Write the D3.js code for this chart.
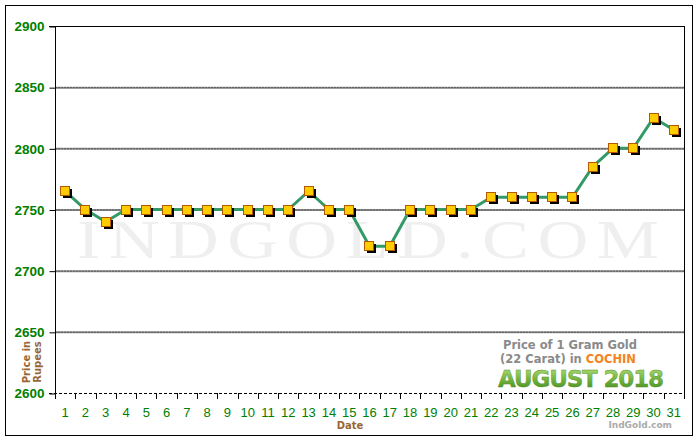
<!DOCTYPE html>
<html><head><meta charset="utf-8">
<script src="https://cdn.jsdelivr.net/npm/d3@7"></script>
<style>body{margin:0;background:#fff}</style>
</head><body>
<svg id="c" width="700" height="440"></svg>
<script>
const dates = d3.range(1, 32).map(String);
const prices = [2765,2750,2740,2750,2750,2750,2750,2750,2750,2750,2750,2750,2765,2750,2750,2720,2720,2750,2750,2750,2750,2760,2760,2760,2760,2760,2785,2800,2800,2825,2815];
const yTicks = [2600,2650,2700,2750,2800,2850,2900];

const svg = d3.select("#c");
const L = 55, R = 684, T = 26, B = 393;
const x = d3.scaleBand().domain(dates).range([L, R]);
const y = d3.scaleLinear().domain([2600, 2900]).range([B, T]);

svg.append("rect").attr("x",5.5).attr("y",5.5).attr("width",687).attr("height",430)
  .attr("fill","#fff").attr("stroke","#000");

// watermark
svg.append("text").attr("transform","translate(77,258) scale(1.3,1)")
  .attr("x", 0).attr("y", 0).attr("textLength", 582/1.3).attr("lengthAdjust","spacing")
  .attr("font-family","Liberation Serif, DejaVu Serif, serif").attr("font-size", 54)
  .attr("fill","#efefef").text("INDGOLD.COM");

// gridlines
const grid = yTicks.filter(v => v > 2600 && v < 2900);
svg.append("g").selectAll("line").data(grid).join("line")
  .attr("x1", L).attr("x2", R).attr("y1", d => y(d)+0.5).attr("y2", d => y(d)+0.5)
  .attr("stroke","#8a8a8a").attr("stroke-width",2);
svg.append("g").selectAll("line").data(grid).join("line")
  .attr("x1", L).attr("x2", R).attr("y1", d => y(d)+0.5).attr("y2", d => y(d)+0.5)
  .attr("stroke","#5a5a5a").attr("stroke-width",1).attr("stroke-dasharray","2,1");

// legend box
const lg = svg.append("g");
lg.append("rect").attr("x", 472).attr("y", y(2650)+2).attr("width", R-473).attr("height", B - y(2650)-3).attr("fill","#fff");
const defs = svg.append("defs");
const gr = defs.append("linearGradient").attr("id","gg").attr("x1",0).attr("y1",0).attr("x2",0).attr("y2",1);
gr.append("stop").attr("offset","0").attr("stop-color","#b8e07a");
gr.append("stop").attr("offset","0.55").attr("stop-color","#6fb03a");
gr.append("stop").attr("offset","1").attr("stop-color","#3f8a1e");
lg.append("text").attr("x", 570).attr("y", 349).attr("text-anchor","middle")
  .attr("font-family","DejaVu Sans, Verdana, sans-serif").attr("font-weight","bold").attr("font-size", 11.5)
  .attr("fill","#8a8a8a").text("Price of 1 Gram Gold");
const t2 = lg.append("text").attr("x", 568).attr("y", 363).attr("text-anchor","middle")
  .attr("font-family","DejaVu Sans, Verdana, sans-serif").attr("font-weight","bold").attr("font-size", 11.5)
  .attr("fill","#8a8a8a");
t2.append("tspan").text("(22 Carat) in ");
t2.append("tspan").attr("fill","#f58220").text("COCHIN");
lg.append("text").attr("x", 581).attr("y", 387).attr("text-anchor","middle").attr("textLength",166)
  .attr("font-family","DejaVu Sans, Verdana, sans-serif").attr("font-weight","bold").attr("font-size", 23)
  .attr("fill","url(#gg)").attr("stroke","#4d8f2a").attr("stroke-width",0.4).text("AUGUST 2018");

// axes frame
svg.append("line").attr("x1", L-6).attr("x2", R+0.5).attr("y1", T+0.5).attr("y2", T+0.5).attr("stroke","#000");
svg.append("line").attr("x1", R+0.5).attr("x2", R+0.5).attr("y1", T).attr("y2", B).attr("stroke","#000");
svg.append("line").attr("x1", L+0.5).attr("x2", L+0.5).attr("y1", T).attr("y2", B+6).attr("stroke","#000");
svg.append("line").attr("x1", L-6).attr("x2", R+0.5).attr("y1", B+0.5).attr("y2", B+0.5)
  .attr("stroke","#000").attr("stroke-dasharray","3,2");

// y axis
const ya = svg.append("g").attr("transform", `translate(${L+0.5},0.5)`)
  .call(d3.axisLeft(y).tickValues(yTicks).tickFormat(d3.format("d")).tickSize(6).tickPadding(5));
ya.select(".domain").remove();
ya.selectAll("line").attr("stroke","#000");
ya.selectAll("text").attr("fill","#008000").attr("font-family","Liberation Sans, Arial, sans-serif")
  .attr("font-weight","bold").attr("font-size",13.5);

// x axis ticks at band boundaries
svg.append("g").selectAll("line").data(dates.slice(1).concat(["end"])).join("line")
  .attr("x1", (d,i) => Math.round(L + (i+1)*x.step())+0.5)
  .attr("x2", (d,i) => Math.round(L + (i+1)*x.step())+0.5)
  .attr("y1", B).attr("y2", B+6).attr("stroke","#000");
svg.append("g").selectAll("text").data(dates).join("text")
  .attr("x", d => x(d) + x.bandwidth()/2).attr("y", 417).attr("text-anchor","middle")
  .attr("fill","#008000").attr("font-family","Liberation Sans, Arial, sans-serif").attr("font-size",13)
  .text(d => d);

// axis titles
svg.append("text").attr("x", 350).attr("y", 429).attr("text-anchor","middle")
  .attr("font-family","DejaVu Sans, Verdana, sans-serif").attr("font-weight","bold").attr("font-size",10)
  .attr("fill","#996633").text("Date");
const yt = svg.append("text").attr("transform","translate(30,362) rotate(-90)").attr("text-anchor","middle")
  .attr("font-family","DejaVu Sans, Verdana, sans-serif").attr("font-weight","bold").attr("font-size",10)
  .attr("fill","#996633");
yt.append("tspan").attr("x",0).attr("y",0).text("Price in");
yt.append("tspan").attr("x",0).attr("y",11).text("Rupees");

// line
const cx = d => x(d) + x.bandwidth()/2;
svg.append("path").datum(prices)
  .attr("d", d3.line().x((v,i) => cx(dates[i])).y(v => y(v)))
  .attr("fill","none").attr("stroke","#339966").attr("stroke-width",3);

// markers
const m = svg.append("g").selectAll("g").data(prices).join("g")
  .attr("transform", (v,i) => `translate(${Math.round(cx(dates[i]))},${Math.round(y(v))})`);
m.append("rect").attr("x",-2).attr("y",-2).attr("width",9).attr("height",9).attr("fill","#000");
m.append("rect").attr("x",-4.5).attr("y",-4.5).attr("width",9).attr("height",9)
  .attr("fill","#ffcc00").attr("stroke","#b35900").attr("stroke-width",1);

// footer
svg.append("text").attr("x", 672).attr("y", 428).attr("text-anchor","end")
  .attr("font-family","DejaVu Sans, Verdana, sans-serif").attr("font-weight","bold").attr("font-size",9)
  .attr("fill","#aaaaaa").text("IndGold.com");
</script>
</body></html>
